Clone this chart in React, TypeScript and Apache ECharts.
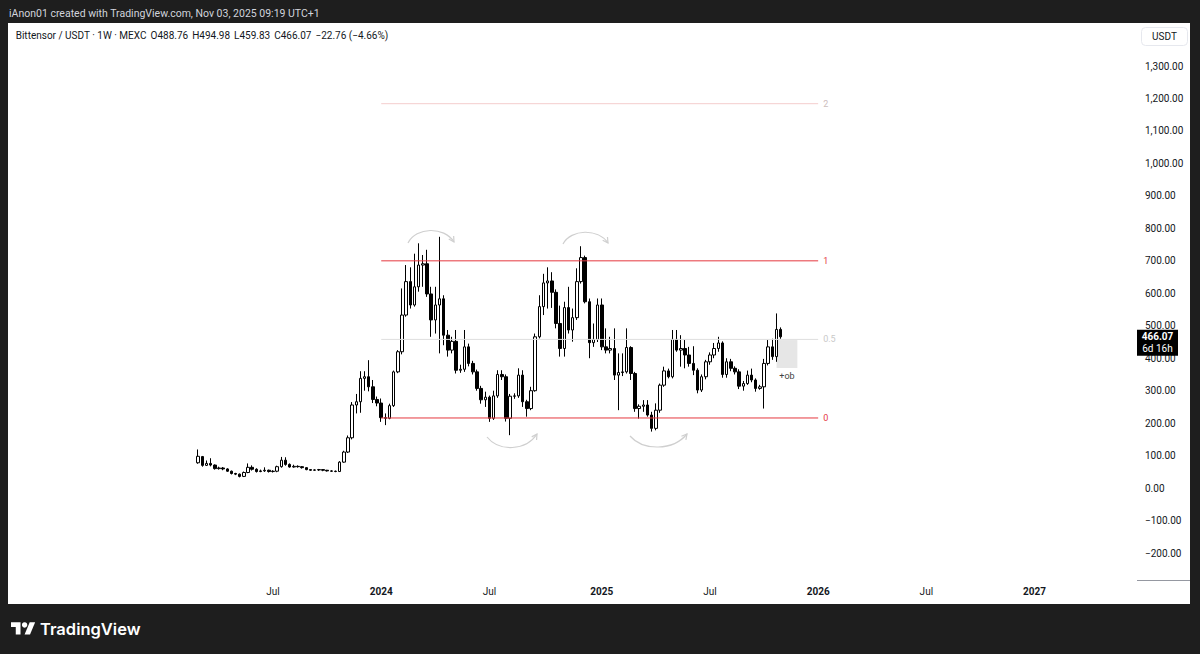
import React, { useEffect, useRef } from "react";
import * as echarts from "echarts";

// ---------- data ----------
const START_UTC = Date.UTC(2022, 3, 18); // first (empty) weekly slot, Monday
const WEEK_MS = 7 * 86400000;
const TOTAL_WEEKS = 271;
const FIRST_BAR = 45; // week index of the first candle (2023-02-27)

const opens = [
  78, 97, 70, 76, 71, 60, 62, 59, 52, 45, 43, 36, 48, 64, 58, 51, 53, 55, 51, 52,
  66, 86, 73, 65, 67, 66, 63, 57, 55, 56, 57, 55, 53, 52, 51, 80, 111, 155, 256, 266,
  338, 343, 312, 273, 262, 217, 215, 254, 358, 420, 533, 636, 564, 620, 687, 691, 598, 518, 564, 583,
  471, 425, 452, 363, 366, 435, 384, 358, 307, 272, 280, 215, 284, 350, 343, 215, 283, 284, 348, 266,
  245, 300, 466, 559, 632, 638, 603, 507, 430, 556, 487, 525, 636, 710, 574, 448, 458, 564, 435, 425,
  430, 348, 356, 358, 433, 353, 245, 252, 256, 225, 184, 240, 317, 361, 343, 458, 425, 430, 410, 384,
  363, 302, 343, 389, 410, 430, 447, 350, 389, 369, 358, 314, 322, 348, 333, 307, 312, 384, 435, 405,
  488.76,
];
const closes = [
  98, 70, 76, 71, 60, 62, 59, 52, 45, 43, 36, 48, 64, 58, 51, 53, 55, 51, 52, 66,
  86, 73, 65, 67, 66, 63, 57, 55, 56, 57, 55, 53, 52, 51, 80, 111, 155, 256, 266, 338,
  343, 312, 273, 262, 217, 215, 254, 358, 420, 533, 636, 564, 620, 687, 691, 598, 518, 564, 583, 471,
  425, 452, 363, 366, 435, 384, 358, 307, 272, 280, 215, 284, 350, 343, 215, 283, 284, 348, 266, 245,
  300, 466, 559, 632, 638, 603, 507, 430, 556, 487, 525, 636, 710, 574, 448, 458, 564, 435, 425, 430,
  348, 356, 358, 433, 353, 245, 252, 256, 225, 184, 240, 317, 361, 343, 458, 425, 430, 410, 384, 363,
  302, 343, 389, 410, 430, 447, 350, 389, 369, 358, 314, 322, 348, 333, 307, 312, 384, 435, 405, 488.76,
  466.07,
];
const lows = [
  75, 66, 68, 67, 57, 57, 55, 50, 42, 40, 33, 34, 46, 54, 48, 49, 50, 48, 48, 49,
  63, 69, 63, 63, 63, 60, 55, 53, 53, 53, 52, 51, 50, 49, 50, 78, 108, 150, 230, 232,
  300, 298, 262, 252, 204, 194, 212, 250, 354, 412, 528, 553, 559, 605, 620, 589, 466, 476, 415, 440,
  405, 415, 353, 355, 358, 375, 350, 300, 260, 250, 204, 210, 278, 333, 205, 163, 275, 278, 250, 220,
  240, 297, 461, 533, 553, 555, 492, 405, 405, 476, 451, 518, 630, 569, 400, 435, 450, 425, 415, 415,
  333, 240, 345, 353, 333, 235, 214, 235, 220, 174, 178, 232, 312, 338, 338, 420, 374, 369, 374, 348,
  292, 296, 335, 380, 400, 420, 340, 340, 360, 350, 305, 300, 318, 326, 297, 303, 245, 378, 395, 389,
  459.83,
];
const highs = [
  119, 99, 85, 92, 73, 66, 65, 61, 54, 47, 45, 51, 76, 70, 61, 57, 64, 57, 55, 69,
  96, 95, 76, 72, 70, 68, 64, 58, 58, 59, 58, 56, 55, 54, 83, 115, 162, 265, 290, 360,
  360, 394, 333, 282, 276, 230, 260, 362, 425, 615, 687, 680, 722, 754, 718, 734, 620, 620, 774, 594,
  487, 466, 487, 380, 487, 445, 392, 365, 315, 297, 285, 300, 363, 363, 350, 290, 292, 369, 363, 272,
  312, 476, 594, 660, 680, 665, 612, 562, 574, 620, 553, 677, 745, 716, 584, 507, 584, 584, 492, 466,
  492, 415, 415, 492, 437, 358, 258, 271, 271, 235, 261, 322, 374, 368, 487, 487, 471, 456, 435, 437,
  369, 350, 395, 418, 447, 466, 452, 400, 398, 375, 366, 330, 362, 368, 338, 318, 398, 456, 460, 538,
  494.98,
];

const fibValues = [1184, 700, 458, 216];
const fibNames = ["2", "1", "0.5", "0"];
const fibLineColors = ["#f4cdcd", "#e5383f", "#dedede", "#e5383f"];
const fibLabelColors = ["#cdbdbd", "#e5383f", "#c9c9c9", "#e5383f"];
const FIB_FROM = 89;
const FIB_TO = 194;

const obTop = 456;
const obBottom = 370;
const OB_FROM = 184;
const OB_TO = 189;

const LAST_CLOSE = closes[closes.length - 1];

const headerTitle = "Bittensor / USDT · 1W · MEXC";
const headerValues = ["O488.76", "H494.98", "L459.83", "C466.07", "\u221222.76 (\u22124.66%)"];

// ---------- helpers ----------
const categories: string[] = Array.from({ length: TOTAL_WEEKS }, (_, k) =>
  new Date(START_UTC + k * WEEK_MS).toISOString().slice(0, 10)
);

const isLabelWeek = (k: number) => {
  if (k < FIRST_BAR) return false;
  const s = categories[k];
  const m = +s.slice(5, 7);
  const d = +s.slice(8, 10);
  return (m === 1 || m === 7) && d <= 7;
};

const fmtPrice = (v: number) => {
  if (v < -200 || v > 1300) return "";
  const s = Math.abs(v).toLocaleString("en-US", {
    minimumFractionDigits: 2,
    maximumFractionDigits: 2,
  });
  return v < 0 ? "\u2212" + s : s;
};

const TXT = "#131722";
const FONT = "Roboto";

const arcs = [
  { p0: [408, 243], c1: [416, 227], c2: [444, 226], p1: [454, 242] },
  { p0: [563, 244], c1: [571, 229], c2: [598, 228], p1: [608, 243] },
  { p0: [487, 437], c1: [499, 452], c2: [526, 451], p1: [537, 434] },
  { p0: [630, 436], c1: [643, 451], c2: [673, 451], p1: [687, 434] },
];

function arcGraphics() {
  const out: any[] = [];
  arcs.forEach((a) => {
    out.push({
      type: "bezierCurve",
      z: 50,
      silent: true,
      shape: {
        x1: a.p0[0], y1: a.p0[1], x2: a.p1[0], y2: a.p1[1],
        cpx1: a.c1[0], cpy1: a.c1[1], cpx2: a.c2[0], cpy2: a.c2[1],
      },
      style: { stroke: "#cfcfcf", lineWidth: 1.2, fill: null },
    });
    const dx = a.p1[0] - a.c2[0];
    const dy = a.p1[1] - a.c2[1];
    const len = Math.hypot(dx, dy);
    const ux = dx / len, uy = dy / len;
    const L = 6, ang = 0.5;
    const w1 = [
      a.p1[0] - L * (ux * Math.cos(ang) - uy * Math.sin(ang)),
      a.p1[1] - L * (uy * Math.cos(ang) + ux * Math.sin(ang)),
    ];
    const w2 = [
      a.p1[0] - L * (ux * Math.cos(-ang) - uy * Math.sin(-ang)),
      a.p1[1] - L * (uy * Math.cos(-ang) + ux * Math.sin(-ang)),
    ];
    out.push({
      type: "polyline",
      z: 50,
      silent: true,
      shape: { points: [w1, a.p1, w2] },
      style: { stroke: "#cfcfcf", lineWidth: 1.2, fill: null },
    });
  });
  return out;
}

export default function App() {
  const ref = useRef<HTMLDivElement>(null);

  useEffect(() => {
    if (!ref.current) return;
    const chart = echarts.init(ref.current, null, { renderer: "svg" });

    const candleData = opens.map((o, i) => [
      i + FIRST_BAR,
      o,
      closes[i],
      lows[i],
      highs[i],
    ]);

    const fibSeries = fibValues.map((v, j) => ({
      type: "line",
      name: "fib" + fibNames[j],
      data: [
        [FIB_FROM, v],
        [FIB_TO, v],
      ],
      symbol: "none",
      silent: true,
      z: 3,
      color: fibLineColors[j],
      lineStyle: { color: fibLineColors[j], width: 1, type: "solid" },
      endLabel: {
        show: true,
        formatter: fibNames[j],
        color: fibLabelColors[j],
        fontSize: 9,
        fontFamily: FONT,
        distance: 5,
      },
    }));

    chart.setOption({
      animation: false,
      backgroundColor: "transparent",
      grid: { left: 8.8, right: 63.5, top: 1.1, bottom: 68.5, containLabel: false },
      xAxis: {
        type: "category",
        data: categories,
        boundaryGap: true,
        axisLine: { show: false },
        axisTick: { show: false },
        splitLine: { show: false },
        axisLabel: {
          interval: (index: number) => isLabelWeek(index),
          hideOverlap: false,
          margin: 1,
          fontSize: 10,
          fontFamily: FONT,
          color: TXT,
          formatter: (value: string) => {
            const m = +value.slice(5, 7);
            return m === 1 ? "{y|" + value.slice(0, 4) + "}" : "Jul";
          },
          rich: {
            y: { fontSize: 10, fontFamily: FONT, fontWeight: "bold", color: TXT },
          },
        },
      },
      yAxis: {
        type: "value",
        position: "right",
        min: -300,
        max: 1500,
        interval: 100,
        axisLine: { show: false },
        axisTick: { show: false },
        splitLine: { show: false },
        axisLabel: {
          align: "left",
          margin: 8.5,
          fontSize: 10,
          fontFamily: FONT,
          color: TXT,
          formatter: (v: number) => fmtPrice(v),
        },
      },
      series: [
        {
          type: "candlestick",
          data: candleData,
          encode: { x: 0, y: [1, 2, 3, 4] },
          barWidth: 3,
          z: 2,
          itemStyle: {
            color: "#ffffff",
            color0: "#000000",
            borderColor: "#000000",
            borderColor0: "#000000",
            borderWidth: 1,
          },
          markArea: {
            silent: true,
            itemStyle: { color: "#e6e6e6" },
            label: {
              show: true,
              position: "bottom",
              formatter: "+ob",
              color: "#444",
              fontSize: 9,
              fontFamily: FONT,
              distance: 4,
            },
            data: [[{ coord: [OB_FROM, obTop] }, { coord: [OB_TO, obBottom] }]],
          },
        },
        ...fibSeries,
      ],
    });

    const yTag = chart.convertToPixel({ yAxisIndex: 0 }, LAST_CLOSE) as number;

    const headerText =
      "{a|" + headerTitle + "}" + headerValues.map((t) => "{b|" + t + "}").join("");

    const elements: any[] = [
      { type: "rect", z: -100, silent: true, shape: { x: 8, y: 23, width: 1182, height: 581 }, style: { fill: "#ffffff" } },
      {
        type: "text", z: 100, x: 9, y: 13,
        style: { text: "iAnon01 created with TradingView.com, Nov 03, 2025 09:19 UTC+1", fill: "#d1d4dc", fontSize: 10.5, fontFamily: FONT, verticalAlign: "middle", align: "left" },
      },
      {
        type: "text", z: 100, x: 15.7, y: 35.5,
        style: {
          text: headerText,
          fill: TXT, fontSize: 10, fontFamily: FONT, verticalAlign: "middle", align: "left",
          rich: {
            a: { fill: TXT, fontSize: 10, fontFamily: FONT },
            b: { fill: TXT, fontSize: 10, fontFamily: FONT, padding: [0, 0, 0, 4] },
          },
        },
      },
      { type: "rect", z: 100, shape: { x: 1141.5, y: 27.5, width: 46, height: 18, r: 4 }, style: { fill: "#fff", stroke: "#e6e8ee", lineWidth: 1 } },
      { type: "text", z: 101, x: 1164.5, y: 36.5, style: { text: "USDT", fill: TXT, fontSize: 10, fontFamily: FONT, align: "center", verticalAlign: "middle" } },
      { type: "line", z: 100, shape: { x1: 1137, y1: 580.5, x2: 1190, y2: 580.5 }, style: { stroke: "#9598a1", lineWidth: 1 } },
      // price tag
      { type: "rect", z: 200, shape: { x: 1137, y: yTag - 7, width: 41, height: 26 }, style: { fill: "#000" } },
      { type: "text", z: 201, x: 1157.5, y: yTag, style: { text: "466.07", fill: "#fff", fontSize: 10, fontWeight: "bold", fontFamily: FONT, align: "center", verticalAlign: "middle" } },
      { type: "text", z: 201, x: 1157.5, y: yTag + 12, style: { text: "6d 16h", fill: "#fff", fontSize: 10, fontFamily: FONT, align: "center", verticalAlign: "middle" } },
      // logo
      {
        type: "group", z: 100, x: 11, y: 619.5, scaleX: 0.68, scaleY: 0.68,
        children: [
          { type: "polygon", shape: { points: [[0, 4], [14, 4], [14, 22], [7, 22], [7, 11], [0, 11]] }, style: { fill: "#fff" } },
          { type: "circle", shape: { cx: 20, cy: 8, r: 4 }, style: { fill: "#fff" } },
          { type: "polygon", shape: { points: [[20, 22], [27.5, 4], [35.5, 4], [28, 22]] }, style: { fill: "#fff" } },
        ],
      },
      { type: "text", z: 100, x: 40, y: 629, style: { text: "TradingView", fill: "#fff", fontSize: 16.5, fontWeight: 600, fontFamily: "Inter", verticalAlign: "middle", align: "left" } },
      ...arcGraphics(),
    ];

    chart.setOption({ graphic: { elements } });

    return () => chart.dispose();
  }, []);

  return (
    <div
      style={{
        position: "fixed",
        left: 0,
        top: 0,
        width: 1200,
        height: 654,
        background: "#1e1e1e",
      }}
    >
      <div ref={ref} style={{ width: 1200, height: 654 }} />
    </div>
  );
}
